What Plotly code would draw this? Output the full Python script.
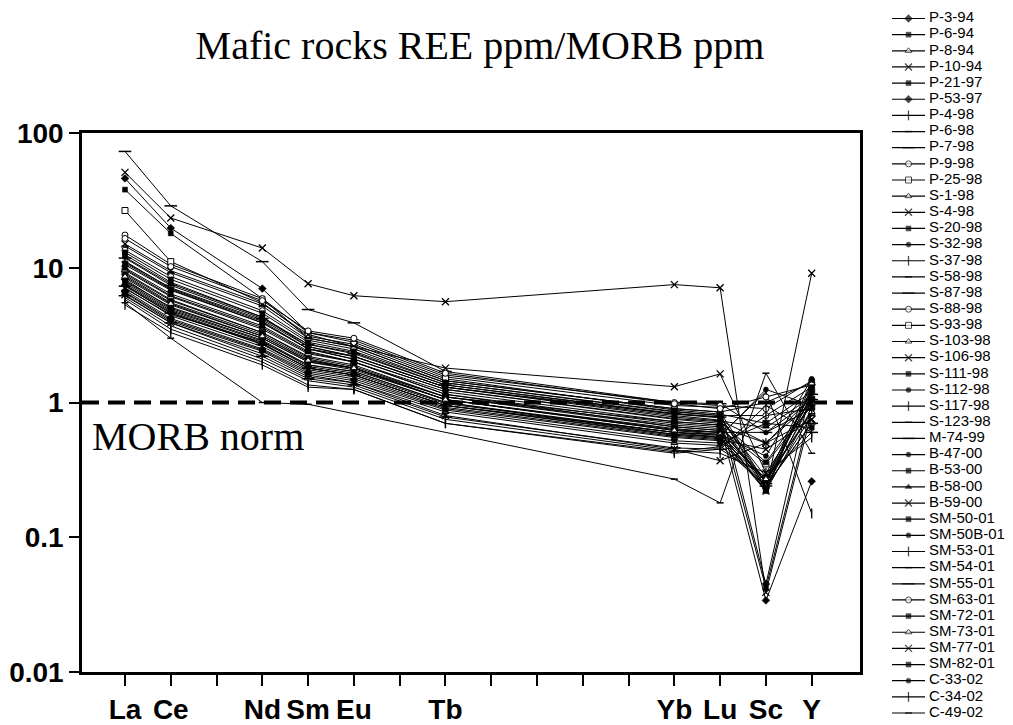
import plotly.graph_objects as go

# ---------------- data ----------------
elements = ["La", "Ce", "Pr", "Nd", "Sm", "Eu", "Gd", "Tb", "Dy", "Ho", "Er", "Tm", "Yb", "Lu", "Sc", "Y"]
tick_labels = ["La", "Ce", "", "Nd", "Sm", "Eu", "", "Tb", "", "", "", "", "Yb", "Lu", "Sc", "Y"]
plotted = ["La", "Ce", "Nd", "Sm", "Eu", "Tb", "Yb", "Lu", "Sc", "Y"]

samples = ["P-3-94", "P-6-94", "P-8-94", "P-10-94", "P-21-97", "P-53-97", "P-4-98", "P-6-98",
           "P-7-98", "P-9-98", "P-25-98", "S-1-98", "S-4-98", "S-20-98", "S-32-98", "S-37-98",
           "S-58-98", "S-87-98", "S-88-98", "S-93-98", "S-103-98", "S-106-98", "S-111-98",
           "S-112-98", "S-117-98", "S-123-98", "M-74-99", "B-47-00", "B-53-00", "B-58-00",
           "B-59-00", "SM-50-01", "SM-50B-01", "SM-53-01", "SM-54-01", "SM-55-01", "SM-63-01",
           "SM-72-01", "SM-73-01", "SM-77-01", "SM-82-01", "C-33-02", "C-34-02", "C-49-02"]

La = [8.2, 12.5, 9.6, 51, 38, 46, 7.4, 6.8, 73, 17.5, 26.6, 10.5, 15, 8.8, 7.9, 11.2,
      5.5, 6.2, 13.5, 9.2, 6.5, 7.1, 10.0, 8.0, 6.0, 14.5, 11.8, 7.7, 9.0, 8.4,
      7.0, 6.6, 12.0, 5.8, 9.8, 7.3, 16.5, 10.8, 8.6, 6.3, 13.0, 7.5, 5.3, 11.0]
Ce = [5.0, 7.8, 6.1, 23.4, 18, 19.7, 4.6, 4.2, 28.8, 10.6, 11.1, 6.8, 9.5, 5.5, 4.9, 7.0,
      3.0, 3.9, 8.6, 5.8, 4.0, 4.4, 6.4, 5.1, 3.7, 9.2, 7.4, 4.8, 5.7, 5.3,
      4.5, 4.1, 7.6, 3.5, 6.2, 4.6, 10.2, 6.9, 5.4, 3.9, 8.2, 4.7, 3.3, 7.1]
Nd = [3.0, 4.3, 3.5, 14, 5.9, 7.0, 2.7, 2.5, 11.1, 5.9, 5.5, 3.9, 5.4, 3.2, 2.9, 4.0,
      1.0, 2.2, 4.8, 3.3, 2.4, 2.6, 3.7, 3.0, 2.1, 5.2, 4.2, 2.85, 3.3, 3.1,
      2.8, 2.45, 4.3, 2.0, 3.6, 2.7, 5.7, 3.9, 3.1, 2.3, 4.6, 2.75, 1.9, 4.1]
Sm = [2.0, 2.6, 2.3, 7.6, 3.0, 3.3, 1.8, 1.7, 4.9, 3.3, 3.1, 2.5, 3.2, 2.1, 1.9, 2.5,
      0.97, 1.5, 2.9, 2.2, 1.6, 1.75, 2.4, 2.0, 1.45, 3.0, 2.7, 1.85, 2.15, 2.05,
      1.9, 1.65, 2.7, 1.35, 2.35, 1.8, 3.4, 2.5, 2.05, 1.55, 2.8, 1.8, 1.3, 2.6]
Eu = [1.8, 2.2, 2.0, 6.2, 2.6, 2.8, 1.6, 1.5, 3.9, 2.9, 2.7, 2.1, 2.6, 1.8, 1.7, 2.2,
      None, 1.35, 2.5, 1.9, 1.4, 1.55, 2.0, 1.75, 1.3, 2.6, 2.3, 1.65, 1.85, 1.8,
      1.7, 1.45, 2.35, 1.25, 2.0, 1.6, 3.0, 2.1, 1.8, 1.4, 2.4, 1.6, 1.25, 2.2]
Tb = [1.1, 1.3, 1.15, 5.6, 1.45, 1.55, 0.95, 0.9, 1.7, 1.6, 1.5, 1.25, 1.8, 1.05, 1.0, 1.3,
      None, 0.78, 1.4, 1.1, 0.85, 0.92, 1.2, 1.05, 0.75, 1.45, 1.35, 0.98, 1.1, 1.05,
      1.0, 0.88, 1.35, 0.7, 1.15, 0.95, 1.65, 1.25, 1.05, 0.8, 1.4, 0.95, 0.7, 1.3]
Yb = [0.72, 0.82, 0.66, 7.5, 0.9, 0.95, 0.6, 0.55, 1.0, 1.0, 0.88, 0.75, 1.31, 0.62, 0.58, 0.8,
      0.27, 0.46, 0.85, 0.68, 0.5, 0.56, 0.72, 0.63, 0.44, 0.9, 0.83, 0.6, 0.66, 0.64,
      0.6, 0.52, 0.82, 0.42, 0.7, 0.57, 0.98, 0.76, 0.62, 0.45, 0.86, 0.58, 0.43, 0.78]
Lu = [0.68, 0.78, 0.62, 7.1, 0.85, 0.92, 0.57, 0.52, 0.98, 0.95, 0.82, 0.7, 1.63, 0.6, 0.55, 0.74,
      0.18, 0.45, 0.8, 0.64, 0.48, 0.53, 0.68, 0.6, 0.42, 0.85, 0.78, 0.58, 0.62, 0.6,
      0.55, 0.5, 0.77, 0.45, 0.66, 0.54, 0.9, 0.72, 0.58, 0.37, 0.8, 0.56, 0.47, 0.73]
Sc = [0.034, 0.042, 0.27, 0.039, 0.25, 0.045, 1.2, 0.23, 0.6, 0.9, 0.7, 0.24, 0.3, 0.22, 0.26, 0.5,
      1.65, 0.28, 0.8, 0.35, 0.24, 0.45, 0.23, 0.6, 0.3, 1.0, 0.25, 0.4, 0.26, 0.22,
      0.22, 0.7, 0.28, 0.95, 0.5, 0.24, 1.1, 0.36, 0.27, 0.5, 0.23, 1.25, 0.8, 0.65]
Y = [0.26, 0.95, 1.1, 0.85, 1.25, 1.35, 0.15, 0.8, 1.05, 1.45, 1.2, 1.0, 1.0, 0.9, 0.85, 1.1,
     0.42, 0.6, 1.3, 0.95, 0.7, 0.75, 1.05, 0.9, 0.55, 1.4, 1.15, 1.5, 1.45, 1.4,
     9.1, 0.65, 1.2, 0.6, 1.0, 0.7, 1.35, 1.05, 0.85, 0.75, 1.3, 0.95, 0.9, 1.1]

marker_keys = ["fdiamond", "fsquare", "otri", "x", "fsquare", "fdiamond", "plus", "sdash", "ldash",
               "ocircle", "osquare", "otri", "x", "fsquare", "fcircle", "plus", "sdash", "ldash",
               "ocircle", "osquare", "otri", "x", "fsquare", "fcircle", "plus", "sdash", "ldash",
               "fcircle", "fsquare", "ftri", "x", "fsquare", "fcircle", "plus", "sdash", "ldash",
               "ocircle", "fsquare", "otri", "x", "fsquare", "fcircle", "plus", "sdash"]

morb_level = 1.0

# ---------------- styles ----------------
STYLES = {
    "fdiamond": dict(symbol="diamond", size=6, color="black", line=dict(color="black", width=0.5)),
    "fsquare": dict(symbol="square", size=5, color="black", line=dict(color="black", width=0.5)),
    "fcircle": dict(symbol="circle", size=5, color="black", line=dict(color="black", width=0.5)),
    "ftri": dict(symbol="triangle-up", size=6, color="black", line=dict(color="black", width=0.5)),
    "otri": dict(symbol="triangle-up", size=6, color="white", line=dict(color="black", width=1)),
    "ocircle": dict(symbol="circle", size=6, color="white", line=dict(color="black", width=1)),
    "osquare": dict(symbol="square", size=6, color="white", line=dict(color="black", width=1)),
    "x": dict(symbol="x-thin", size=7, color="black", line=dict(color="black", width=1.3)),
    "plus": dict(symbol="line-ns", size=7, color="black", line=dict(color="black", width=1.3)),
    "sdash": dict(symbol="line-ew", size=5, color="black", line=dict(color="black", width=1.5)),
    "ldash": dict(symbol="line-ew", size=9, color="black", line=dict(color="black", width=1.5)),
}

# page body offsets the figure by 8px; lay out in window pixels minus that offset
OFF = 8
W, H = 1013 - OFF, 725 - OFF
PLOT_L, PLOT_R, PLOT_T, PLOT_B = 82 - OFF, 860 - OFF, 133 - OFF, 672 - OFF
XR = [0.061, 17.055]


def px_x(v):
    return (v - OFF) / W


def px_y(v):
    return 1 - (v - OFF) / H


values = {"La": La, "Ce": Ce, "Nd": Nd, "Sm": Sm, "Eu": Eu, "Tb": Tb,
          "Yb": Yb, "Lu": Lu, "Sc": Sc, "Y": Y}
xpos = [elements.index(e) + 1 for e in plotted]

fig = go.Figure()

# MORB normalisation line
fig.add_trace(go.Scatter(x=XR, y=[morb_level, morb_level], mode="lines",
                         line=dict(color="black", width=4, dash="17px,9px"),
                         hoverinfo="skip", showlegend=False, xaxis="x", yaxis="y"))

for i, name in enumerate(samples):
    ys = [values[e][i] for e in plotted]
    fig.add_trace(go.Scatter(
        x=xpos, y=ys, name=name, mode="lines+markers", connectgaps=True,
        line=dict(color="black", width=1), marker=STYLES[marker_keys[i]],
        showlegend=False, xaxis="x", yaxis="y"))

# legend drawn in its own axes (one row per sample)
LEG_X0 = 880
first_row, last_row = 18.5, 713
n = len(samples)
span = (n - 1) * H / (last_row - first_row)
r0 = -(first_row - OFF) / H * span
idx = list(range(n))
for i, name in enumerate(samples):
    st = STYLES[marker_keys[i]]
    fig.add_trace(go.Scatter(
        x=[892 - LEG_X0, 908.5 - LEG_X0, 925 - LEG_X0], y=[i, i, i], mode="lines+markers",
        line=dict(color="black", width=1.2),
        marker=dict(st, size=[0, st["size"], 0]), cliponaxis=False,
        hoverinfo="skip", showlegend=False, xaxis="x2", yaxis="y2"))
fig.add_trace(go.Scatter(
    x=[929 - LEG_X0] * n, y=idx, mode="text", text=samples, textposition="middle right",
    textfont=dict(family="Liberation Sans, Arial, sans-serif", size=15, color="black"),
    cliponaxis=False, hoverinfo="skip", showlegend=False, xaxis="x2", yaxis="y2"))

fig.add_annotation(text="MORB norm", xref="paper", yref="paper",
                   x=px_x(90), y=px_y(437), xanchor="left", yanchor="middle", showarrow=False,
                   font=dict(family="Liberation Serif, Times New Roman, serif", size=40, color="black"))

fig.update_layout(
    width=W, height=H, template="none",
    margin=dict(l=0, r=0, t=0, b=0),
    paper_bgcolor="white", plot_bgcolor="white",
    title=dict(text="Mafic rocks REE ppm/MORB ppm", x=px_x(480), xanchor="center",
               y=px_y(45), yanchor="middle", yref="container",
               font=dict(family="Liberation Serif, Times New Roman, serif", size=40, color="black")),
    xaxis=dict(domain=[PLOT_L / W, PLOT_R / W], range=XR, tickmode="array",
               tickvals=list(range(1, len(elements) + 1)), ticktext=tick_labels,
               ticks="outside", ticklen=11, tickwidth=2, tickcolor="black",
               showline=True, linewidth=2.5, linecolor="black", mirror=True,
               showgrid=False, zeroline=False, automargin=False,
               tickfont=dict(family="Liberation Sans, Arial, sans-serif", size=28, color="black",
                             weight="bold")),
    yaxis=dict(domain=[1 - PLOT_B / H, 1 - PLOT_T / H], type="log", range=[-2, 2],
               tickmode="array", tickvals=[0.01, 0.1, 1, 10, 100],
               ticktext=["0.01", "0.1", "1", "10", "100"],
               ticks="outside", ticklen=10, tickwidth=2, tickcolor="black",
               showline=True, linewidth=2.5, linecolor="black", mirror=True,
               showgrid=False, zeroline=False, automargin=False,
               tickfont=dict(family="Liberation Sans, Arial, sans-serif", size=28, color="black",
                             weight="bold")),
    xaxis2=dict(domain=[(LEG_X0 - OFF) / W, 1.0], range=[0, 1013 - LEG_X0], visible=False,
                anchor="y2"),
    yaxis2=dict(domain=[0, 1], range=[r0 + span, r0], visible=False, anchor="x2"),
)

fig.write_html("out.html")
